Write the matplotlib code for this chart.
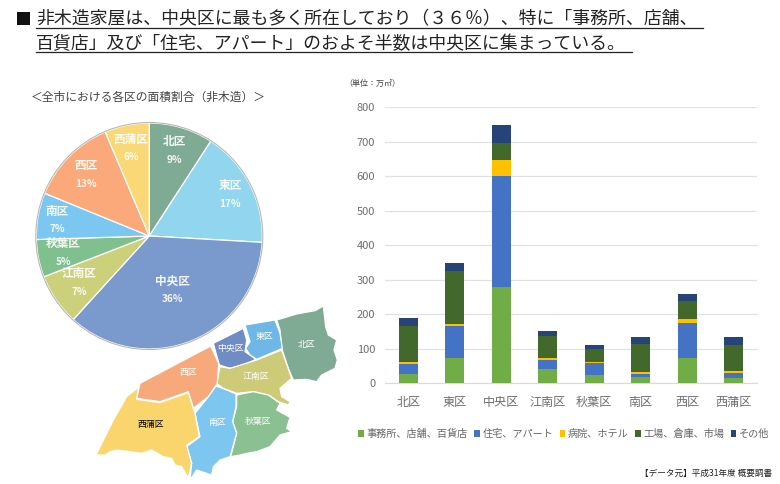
import numpy as np
import matplotlib
matplotlib.use("Agg")
import matplotlib.pyplot as plt
from matplotlib.patches import Polygon, Rectangle

plt.rcParams['font.family'] = ['Noto Sans CJK JP', 'DejaVu Sans']

W, H = 780, 484

# data
wards = ["北区", "東区", "中央区", "江南区", "秋葉区", "南区", "西区", "西蒲区"]
pie_share = [9.2, 16.8, 36.0, 7.4, 5.4, 6.7, 12.5, 6.4]
pie_text = ["9%", "17%", "36%", "7%", "5%", "7%", "13%", "6%"]
series_names = ["事務所、店舗、百貨店", "住宅、アパート", "病院、ホテル", "工場、倉庫、市場", "その他"]
office = [27, 74, 280, 42, 25, 19, 73, 16]
housing = [30, 93, 320, 26, 33, 9, 101, 14]
hospital = [6, 5, 47, 5, 4, 5, 12, 6]
factory = [104, 153, 50, 65, 38, 81, 54, 75]
other = [23, 23, 53, 14, 11, 19, 19, 22]

# styles
ward_colors = ["#7FAB95", "#91D5EE", "#7A99CC", "#CDD07A", "#80C08F", "#7CC6F2", "#FBA97A", "#FBD876"]
map_colors = ["#7FAB95", "#6FB7E6", "#6F8CC6", "#CDCB78", "#8BC093", "#7CC6F0", "#F8A97C", "#FAD56E"]
bar_colors = ["#70AD47", "#4472C4", "#FFC000", "#43682B", "#264478"]
pie_label_xy = [(174, 142), (230, 186), (172, 281), (79, 274), (63, 244), (57, 211), (86, 166), (131, 139)]
map_label_xy = [(307, 345), (264, 337), (230, 348), (256, 376), (258, 421), (217, 422), (188, 372), (151, 425)]

kita = [(590,60),(650,42),(705,32),(730,18),(737,80),(745,105),(770,120),(762,150),(772,180),(765,205),(725,225),(710,245),(680,238),(640,240),(625,205),(605,145),(600,90)]
higashi = [(495,75),(585,60),(600,100),(607,145),(530,178),(510,165),(497,145),(510,125)]
chuo = [(400,130),(490,85),(500,120),(495,155),(528,178),(490,195),(450,205),(418,195)]
konan = [(420,200),(450,205),(530,180),(605,150),(635,235),(600,265),(605,290),(630,305),(625,315),(595,305),(565,285),(520,275),(470,280),(430,265),(410,250)]
akiha = [(470,285),(520,275),(565,285),(600,310),(590,330),(630,352),(620,385),(635,395),(600,405),(570,440),(530,455),(500,460),(480,465),(452,470),(470,400),(458,365),(470,320)]
minami = [(408,258),(440,270),(468,282),(468,320),(458,365),(470,400),(450,470),(420,480),(400,500),(395,525),(350,510),(330,540),(335,490),(320,440),(360,410),(345,340),(385,290)]
nishi = [(392,138),(416,190),(412,250),(385,290),(340,325),(325,275),(240,305),(170,295),(180,250)]
nishikan = [(175,262),(170,298),(240,308),(325,278),(340,325),(345,340),(358,410),(320,435),(335,490),(325,535),(305,500),(285,495),(275,475),(250,470),(215,450),(185,460),(150,455),(110,450),(90,455),(75,465),(48,465),(100,360),(140,290)]
map_shapes = [kita, higashi, chuo, konan, akiha, minami, nishi, nishikan]

def px(x, y):
    return x, H - y

fig = plt.figure(figsize=(W / 100, H / 100), dpi=100)

# whole-figure axes in pixel units, for the pie, map and loose text
bg = fig.add_axes([0, 0, 1, 1])
wedges, _ = bg.pie(pie_share, colors=ward_colors, startangle=90, counterclock=False,
                   center=px(149.3, 236), radius=113,
                   wedgeprops=dict(edgecolor="white", linewidth=0.9))
bg.add_patch(plt.Circle(px(149.3, 236), 113.5, fill=False, ec="#B8B8B8", lw=0.8))
bg.set_xlim(0, W); bg.set_ylim(0, H); bg.set_aspect("auto"); bg.axis("off")

for name, share, (x, y) in zip(wards, pie_text, pie_label_xy):
    bg.text(*px(x, y), name, color="white", fontsize=8.4, fontweight="bold", ha="center", va="center", alpha=0.92)
    bg.text(*px(x, y + 18), share, color="white", fontsize=7.2, fontweight="bold", ha="center", va="center", alpha=0.92)

for shape, c in zip(map_shapes, map_colors):
    pts = [px(80 + a / 3, 300 + b / 3) for a, b in shape]
    bg.add_patch(Polygon(pts, closed=True, fc=c, ec="white", lw=0.9))
for name, (x, y) in zip(wards, map_label_xy):
    col = "black" if name == "西蒲区" else "white"
    bg.text(*px(x, y), name, color=col, fontsize=6.4, ha="center", va="center")

# heading
bg.add_patch(Rectangle(px(17, 25), 13, 13, fc="#111111", ec="none"))
bg.text(*px(36, 19), "非木造家屋は、中央区に最も多く所在しており（３６％）、特に「事務所、店舗、",
        fontsize=12.9, color="#222222", va="center", ha="left")
bg.text(*px(36, 44), "百貨店」及び「住宅、アパート」のおよそ半数は中央区に集まっている。",
        fontsize=12.9, color="#222222", va="center", ha="left")
bg.plot([36, 703], [H - 27.5, H - 27.5], color="#222222", lw=0.9)
bg.plot([36, 632], [H - 51.5, H - 51.5], color="#222222", lw=0.9)

bg.text(*px(148, 97), "＜全市における各区の面積割合（非木造）＞", fontsize=8.5, color="#444444", ha="center", va="center")
bg.text(*px(372, 83), "（単位：万㎡）", fontsize=5.8, color="#444444", ha="center", va="center")
bg.text(*px(772, 473), "【データ元】平成31年度 概要調書", fontsize=6.2, color="#222222", ha="right", va="center")

# stacked bars
ax = fig.add_axes([385 / W, (H - 383.3) / H, 372 / W, 276 / H])
ax.patch.set_alpha(0)
xpos = np.arange(len(wards))
bottom = np.zeros(len(wards))
for vals, name, c in zip([office, housing, hospital, factory, other], series_names, bar_colors):
    ax.bar(xpos, vals, 0.4, bottom=bottom, color=c, label=name, zorder=3)
    bottom += np.array(vals)
ax.set_xlim(-0.5, 7.5); ax.set_ylim(0, 800)
ax.set_yticks(range(0, 801, 100))
ax.set_xticks(xpos, wards)
ax.grid(axis="y", color="#E2E2E2", lw=0.9, zorder=0)
ax.set_axisbelow(True)
for s in ["top", "right", "left"]:
    ax.spines[s].set_visible(False)
ax.spines["bottom"].set_color("#DADADA")
ax.tick_params(axis="y", length=0, pad=7, labelsize=8, labelcolor="#6E6E6E")
ax.tick_params(axis="x", length=0, pad=9, labelsize=8.7, labelcolor="#6E6E6E")
ax.legend(loc="upper left", bbox_to_anchor=(358 / W, (H - 429) / H), bbox_transform=fig.transFigure,
          ncol=5, frameon=False, fontsize=7.3, labelcolor="#666666", handlelength=0.55, handleheight=0.55,
          handletextpad=0.3, columnspacing=0.6, borderpad=0, borderaxespad=0)

fig.savefig("out.png", dpi=100)
